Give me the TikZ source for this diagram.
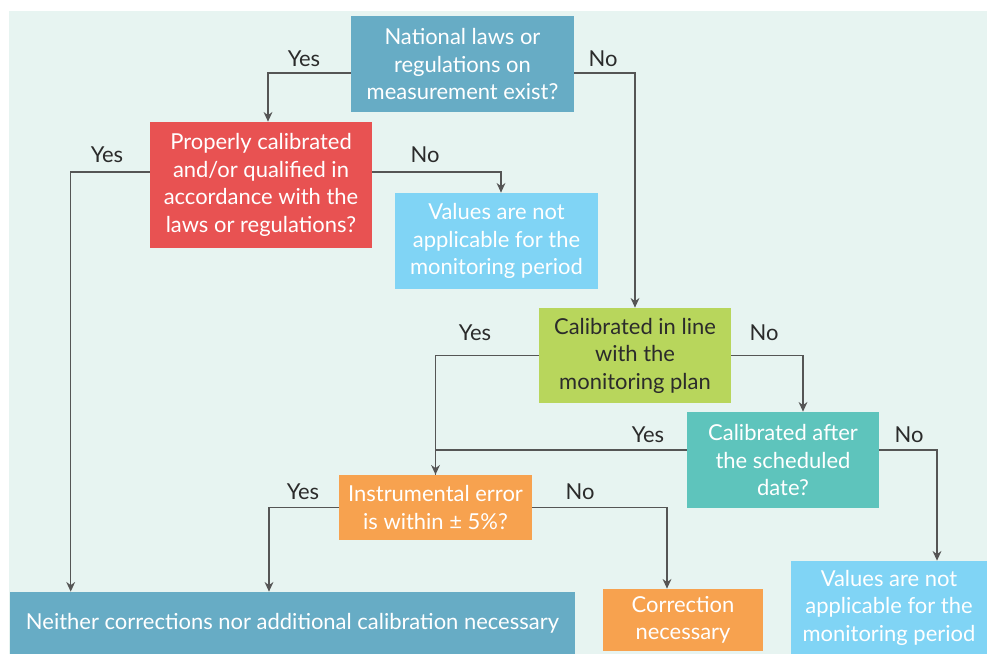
\documentclass[tikz,border=0pt]{standalone}
\usepackage{fontspec}
\setmainfont{Lato}
\usetikzlibrary{arrows.meta,calc}

\definecolor{bgmint}{HTML}{E7F4F1}
\definecolor{natblue}{HTML}{67ACC5}
\definecolor{propred}{HTML}{E85252}
\definecolor{skyblue}{HTML}{80D4F5}
\definecolor{planlime}{HTML}{B8D65C}
\definecolor{afterteal}{HTML}{5EC4BC}
\definecolor{instrorange}{HTML}{F7A24F}
\definecolor{linegray}{HTML}{555555}
\definecolor{inkdark}{HTML}{2B2B2B}

\begin{document}
\begin{tikzpicture}[x=0.02cm, y=-0.02cm,
        box/.style={rectangle, inner sep=0pt, align=center, text=white,
            font=\fontsize{12.5}{15.6}\selectfont},
        flow/.style={draw=linegray, line width=0.9pt, -{Stealth[length=5.5pt, width=5pt]}},
        wire/.style={draw=linegray, line width=0.9pt},
        lbl/.style={text=inkdark, font=\fontsize{12.5}{15}\selectfont}]
            %\draw[lightgray] (0, 0) grid[step=50] (987, 654);
            \useasboundingbox (0, 0) rectangle (987, 654);
            \fill[white] (0, 0) rectangle (987, 654);
            \fill[bgmint] (9, 11) rectangle (987, 654);
            % boxes
            \node[box, fill=natblue, minimum width=4.46cm, minimum height=1.92cm] (nat) at (462.5, 64) {National laws or\\regulations on\\measurement exist?};
            \node[box, fill=propred, minimum width=4.44cm, minimum height=2.52cm] (prop) at (261, 185) {Properly calibrated\\and/or qualified in\\accordance with the\\laws or regulations?};
            \node[box, fill=skyblue, minimum width=4.06cm, minimum height=1.92cm] (valA) at (496.5, 241) {Values are not\\applicable for the\\monitoring period};
            \node[box, fill=planlime, text=inkdark, minimum width=3.84cm, minimum height=1.90cm] (plan) at (635, 355.5) {Calibrated in line\\with the\\monitoring plan};
            \node[box, fill=afterteal, minimum width=3.84cm, minimum height=1.92cm] (after) at (783, 460) {Calibrated after\\the scheduled\\date?};
            \node[box, fill=instrorange, minimum width=3.86cm, minimum height=1.30cm] (instr) at (435.5, 507.5) {Instrumental error\\is within ± 5\%?};
            \node[box, fill=natblue, minimum width=11.30cm, minimum height=1.24cm] (neither) at (292.5, 623) {Neither corrections nor additional calibration necessary};
            \node[box, fill=instrorange, minimum width=3.20cm, minimum height=1.24cm] (corr) at (683, 620) {Correction\\necessary};
            \node[box, fill=skyblue, minimum width=3.92cm, minimum height=1.86cm] (valB) at (889, 607.5) {Values are not\\applicable for the\\monitoring period};
            % connectors
            \draw[flow] ($(nat.west)+(0, 9)$) -| ($(prop.north)+(7, 0)$);
            \draw[flow] ($(nat.east)+(0, 9)$) -| (plan.north);
            \draw[flow] ($(prop.west)+(0, -13)$) -| ($(neither.north west)+(61, 0)$);
            \draw[flow] ($(prop.east)+(0, -13)$) -| ($(valA.north)+(4.5, 0)$);
            \draw[flow] (plan.west) -| (instr.north);
            \draw[flow] (plan.east) -| ($(after.north)+(20, 0)$);
            \draw[wire] ($(after.west)+(0, -10)$) -| (instr.north);
            \draw[flow] ($(after.east)+(0, -10)$) -| ($(valB.north)+(48, 0)$);
            \draw[flow] (instr.west) -| ($(neither.north)+(-23.5, 0)$);
            \draw[flow] (instr.east) -| ($(corr.north)+(-16, 0)$);
            % answers
            \node[lbl] (yesA) at (304, 59) {Yes};
            \node[lbl] (noA) at (603, 59) {No};
            \node[lbl] (yesB) at (107, 155) {Yes};
            \node[lbl] (noB) at (425, 155) {No};
            \node[lbl] (yesC) at (475, 333) {Yes};
            \node[lbl] (noC) at (764, 333) {No};
            \node[lbl] (yesD) at (648, 435) {Yes};
            \node[lbl] (noD) at (909, 435) {No};
            \node[lbl] (yesE) at (303, 492) {Yes};
            \node[lbl] (noE) at (580, 492) {No};
        \end{tikzpicture}
\end{document}
